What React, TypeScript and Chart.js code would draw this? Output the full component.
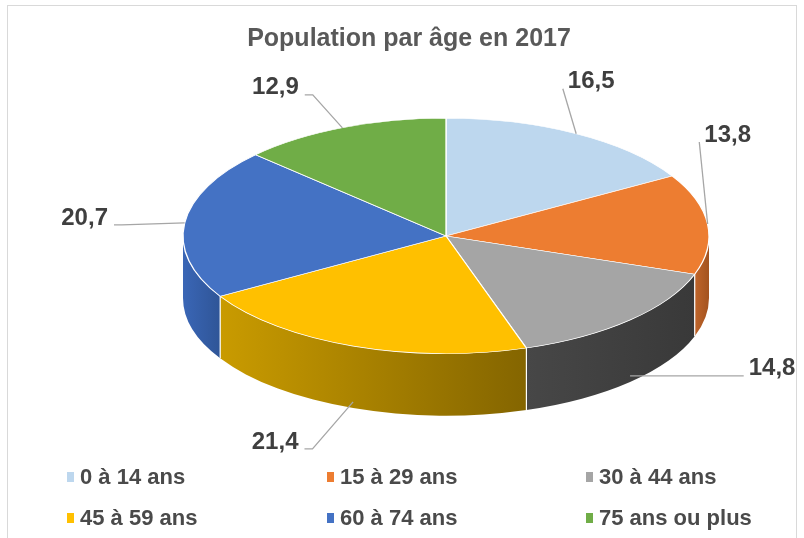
import React, { useEffect, useRef } from 'react';
import { Chart, registerables } from 'chart.js';

Chart.register(...registerables);

// ---- data ----
const titleText = 'Population par âge en 2017';
const categories = ['0 à 14 ans', '15 à 29 ans', '30 à 44 ans', '45 à 59 ans', '60 à 74 ans', '75 ans ou plus'];
const values = [16.5, 13.8, 14.8, 21.4, 20.7, 12.9];
const valueLabels = values.map((v) => v.toFixed(1).replace('.', ','));

// ---- styles ----
const topColors = ['#BDD7EE', '#ED7D31', '#A5A5A5', '#FFC000', '#4472C4', '#70AD47'];
const sideLight = ['#94A8BB', '#C0652A', '#474747', '#C99B00', '#3A66B6', '#5A8C39'];
const sideDark = ['#7E90A1', '#A3531F', '#393939', '#846500', '#2F5597', '#4A7530'];
const FONT = '"Liberation Sans", Arial, sans-serif';

// ---- layout (pixels) ----
const PIE_RX = 263; // horizontal half-axis of the tilted pie
const PIE_SHIFT_X = 37; // pie centre offset from the chart-area centre
const PIE_DEPTH = 62; // thickness of the 3D wall
const labelOffsets: [number, number][] = [
  [15, -52],
  [20, -89],
  [142, -7],
  [-78, 40],
  [-100, -5],
  [-67, -40],
];

function pieGeom(chart: any) {
  const arcs = chart.getDatasetMeta(0).data as any[];
  if (!arcs.length) return null;
  const a = arcs[0];
  const R = a.outerRadius;
  return { arcs, x: a.x, y: a.y, R, cx: a.x + PIE_SHIFT_X, cy: a.y, rx: PIE_RX, ry: R };
}

const pie3d = {
  id: 'pie3d',
  beforeDatasetsDraw(chart: any) {
    const g = pieGeom(chart);
    if (!g) return;
    const ctx: CanvasRenderingContext2D = chart.ctx;
    const { arcs, cx, cy, rx, ry } = g;
    // walls for the front half (angles 0..PI)
    arcs.forEach((arc: any, i: number) => {
      const s = Math.max(arc.startAngle, 0);
      const e = Math.min(arc.endAngle, Math.PI);
      if (e <= s) return;
      const xs = cx + rx * Math.cos(s);
      const xe = cx + rx * Math.cos(e);
      const grad = ctx.createLinearGradient(Math.min(xs, xe), 0, Math.max(xs, xe) + 0.01, 0);
      grad.addColorStop(0, sideLight[i]);
      grad.addColorStop(1, sideDark[i]);
      ctx.beginPath();
      ctx.ellipse(cx, cy, rx, ry, 0, s, e, false);
      ctx.lineTo(cx + rx * Math.cos(e), cy + ry * Math.sin(e) + PIE_DEPTH);
      ctx.ellipse(cx, cy + PIE_DEPTH, rx, ry, 0, e, s, true);
      ctx.closePath();
      ctx.fillStyle = grad;
      ctx.fill();
    });
    // white edges between walls
    ctx.save();
    ctx.strokeStyle = '#FFFFFF';
    ctx.lineWidth = 1.2;
    arcs.forEach((arc: any) => {
      const a = arc.startAngle;
      if (a > 0 && a < Math.PI) {
        const px = cx + rx * Math.cos(a);
        const py = cy + ry * Math.sin(a);
        ctx.beginPath();
        ctx.moveTo(px, py);
        ctx.lineTo(px, py + PIE_DEPTH);
        ctx.stroke();
      }
    });
    ctx.restore();
    // squash the library's circular pie into the tilted top face
    ctx.save();
    ctx.translate(cx, cy);
    ctx.scale(rx / g.R, ry / g.R);
    ctx.translate(-g.x, -g.y);
  },
  afterDatasetsDraw(chart: any) {
    const g = pieGeom(chart);
    if (!g) return;
    const ctx: CanvasRenderingContext2D = chart.ctx;
    ctx.restore();
    const { arcs, cx, cy, rx, ry } = g;
    ctx.save();
    ctx.font = `bold 24px ${FONT}`;
    ctx.textAlign = 'center';
    ctx.textBaseline = 'middle';
    arcs.forEach((arc: any, i: number) => {
      const m = (arc.startAngle + arc.endAngle) / 2;
      const ax = cx + rx * Math.cos(m);
      let ay = cy + ry * Math.sin(m);
      if (Math.sin(m) > 0.3) ay += PIE_DEPTH * 0.9;
      const lx = ax + labelOffsets[i][0];
      const ly = ay + labelOffsets[i][1];
      const text = valueLabels[i];
      const w = ctx.measureText(text).width;
      ctx.strokeStyle = '#A6A6A6';
      ctx.lineWidth = 1.3;
      ctx.beginPath();
      if (lx < ax) {
        const sx = lx + w / 2 + 6;
        ctx.moveTo(sx, ly + 7);
        ctx.lineTo(sx + 8, ly + 7);
        ctx.lineTo(ax, ay);
      } else {
        const sx = lx - w / 2 - 5;
        ctx.moveTo(sx, ly + 7);
        ctx.lineTo(ax, ay);
      }
      ctx.stroke();
      ctx.fillStyle = '#3F3F3F';
      ctx.fillText(text, lx, ly);
    });
    ctx.restore();
  },
};

export default function App() {
  const ref = useRef<HTMLCanvasElement | null>(null);
  useEffect(() => {
    if (!ref.current) return;
    const chart = new Chart(ref.current, {
      type: 'pie',
      data: {
        labels: categories,
        datasets: [
          {
            data: values,
            backgroundColor: topColors,
            borderColor: '#FFFFFF',
            borderWidth: 0.6,
            clip: false,
          } as any,
        ],
      },
      options: {
        animation: false,
        responsive: false,
        events: [],
        layout: { padding: { top: 24, left: 14, right: 0, bottom: 184 } },
        plugins: {
          legend: { display: false },
          tooltip: { enabled: false },
          title: {
            display: true,
            text: titleText,
            color: '#595959',
            font: { family: FONT, size: 25, weight: 'bold' },
            padding: { top: 0, bottom: 64 },
          },
        },
      },
      plugins: [pie3d],
    });
    return () => chart.destroy();
  }, []);

  return (
    <div style={{ position: 'fixed', left: 0, top: 0, width: 804, height: 538, background: '#FFFFFF', overflow: 'hidden' }}>
      <canvas ref={ref} width={804} height={538} style={{ display: 'block', width: 804, height: 538 }} />
      <div
        style={{
          position: 'absolute',
          left: 7,
          top: 5,
          width: 790,
          height: 560,
          border: '1px solid #D9D9D9',
          boxSizing: 'border-box',
          pointerEvents: 'none',
        }}
      />
      <div
        style={{
          position: 'absolute',
          left: 67,
          top: 456,
          display: 'grid',
          gridTemplateColumns: '260px 259px auto',
          gridAutoRows: '41px',
        }}
      >
        {categories.map((c, i) => (
          <div key={c} style={{ display: 'flex', alignItems: 'center' }}>
            <span style={{ display: 'inline-block', width: 7, height: 10, background: topColors[i], marginRight: 6 }} />
            <span
              style={{
                fontFamily: FONT,
                fontWeight: 'bold',
                fontSize: 22,
                color: '#4A4A4A',
                whiteSpace: 'nowrap',
                lineHeight: 1,
              }}
            >
              {c}
            </span>
          </div>
        ))}
      </div>
    </div>
  );
}
